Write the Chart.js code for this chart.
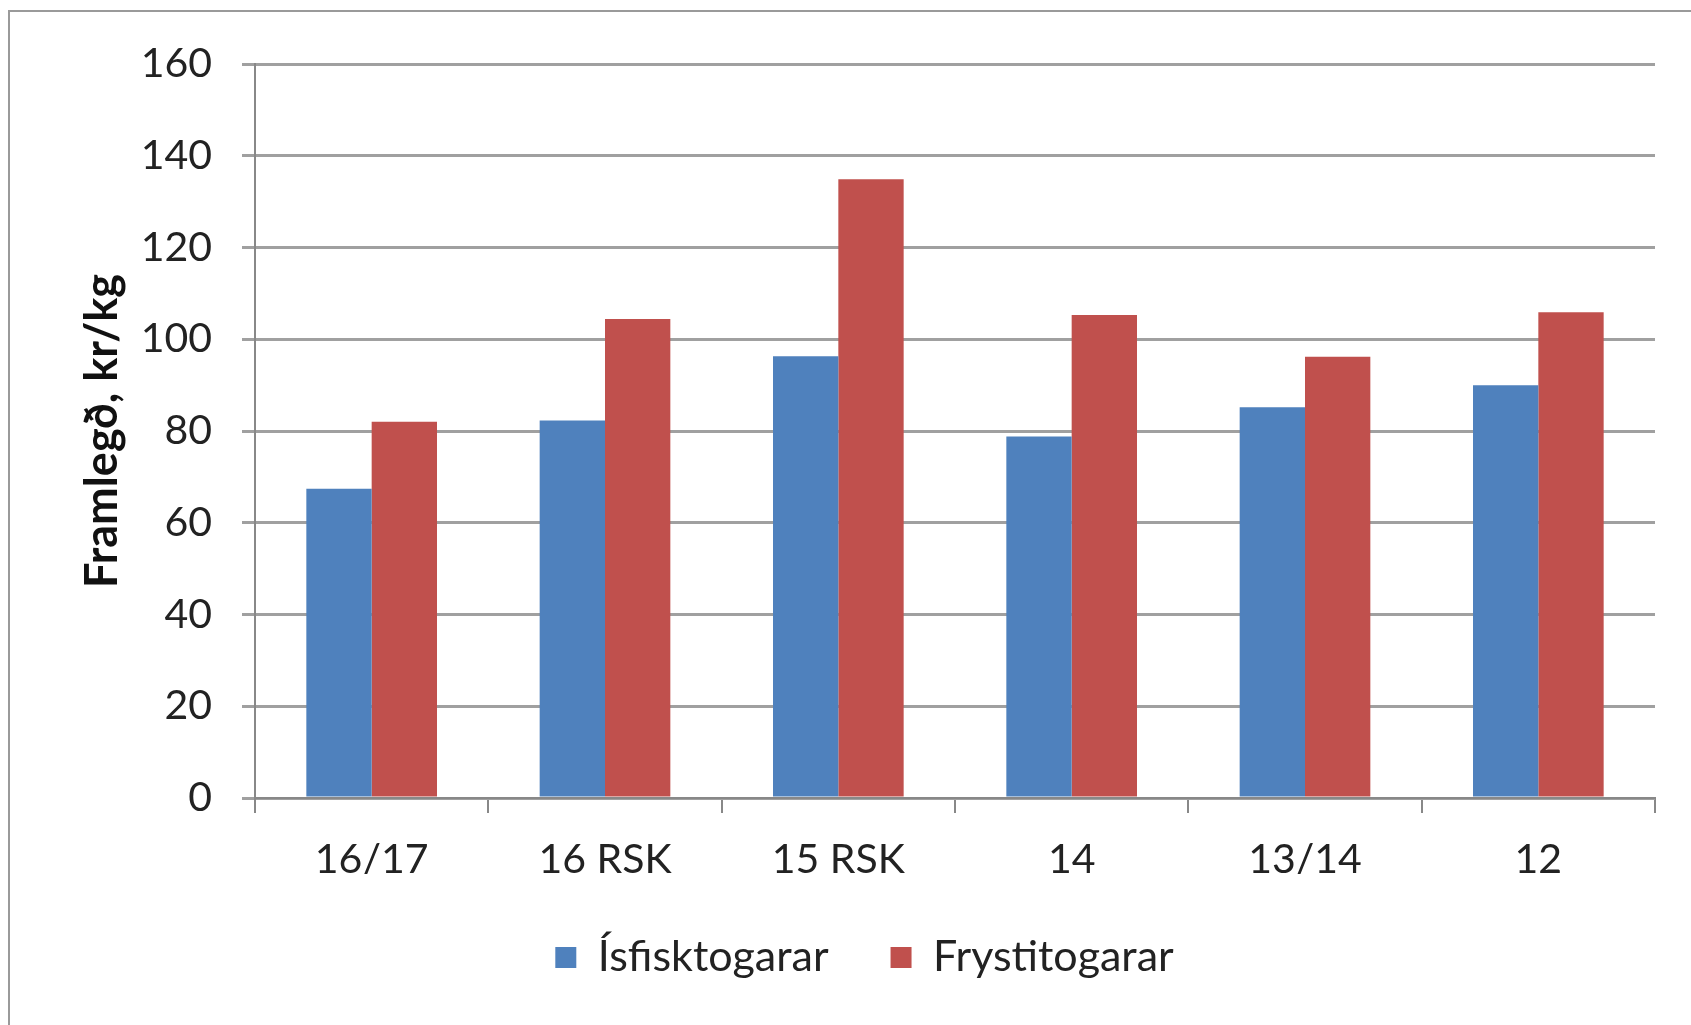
<!DOCTYPE html>
<html>
<head>
<meta charset="utf-8">
<script src="https://cdn.jsdelivr.net/npm/chart.js@4/dist/chart.umd.min.js"></script>
<style>
  html, body { margin: 0; padding: 0; background: #fff; }
  #wrap { width: 1691px; height: 1025px; }
</style>
</head>
<body>
<div id="wrap"><canvas id="myChart"></canvas></div>
<script>
// DATA
const categories = ["16/17", "16 RSK", "15 RSK", "14", "13/14", "12"];
const isfisktogarar = [67.4, 82.3, 96.3, 78.8, 85.2, 90.0];
const frystitogarar = [82.0, 104.4, 134.9, 105.3, 96.2, 105.9];
const seriesNames = ["Ísfisktogarar", "Frystitogarar"];
const yAxisTitle = "Framlegð, kr/kg";

const ctx = document.querySelector("#myChart");
const FONT = "Lato, 'Open Sans', sans-serif";

// outer frame (only left and top edges are visible in the picture)
const framePlugin = {
  id: "frame",
  beforeDraw(chart) {
    const c = chart.ctx;
    c.save();
    c.fillStyle = "#fff";
    c.fillRect(0, 0, chart.width, chart.height);
    c.strokeStyle = "#9a9a9a";
    c.lineWidth = 2;
    c.strokeRect(9, 11, chart.width + 20, chart.height + 20);
    c.restore();
  },
};

new Chart(ctx, {
  type: "bar",
  data: {
    labels: categories,
    datasets: [
      {
        label: seriesNames[0],
        data: isfisktogarar,
        backgroundColor: "#4f81bd",
        borderWidth: 0,
      },
      {
        label: seriesNames[1],
        data: frystitogarar,
        backgroundColor: "#c0504d",
        borderWidth: 0,
      },
    ],
  },
  options: {
    responsive: true,
    maintainAspectRatio: false,
    animation: false,
    categoryPercentage: 0.56,
    barPercentage: 1.0,
    layout: {
      padding: { left: 74, top: 64, right: 36, bottom: 36 },
    },
    plugins: {
      tooltip: { enabled: false },
      legend: {
        position: "bottom",
        labels: {
          font: { family: FONT, size: 43 },
          color: "#222",
          boxWidth: 21,
          boxHeight: 21,
          padding: 62,
        },
      },
    },
    scales: {
      x: {
        afterFit: (s) => {
          s.height = 76;
        },
        grid: {
          offset: true,
          drawOnChartArea: false,
          drawTicks: true,
          tickLength: 15,
          color: "#888",
          lineWidth: 2,
        },
        border: { color: "#888", width: 2 },
        ticks: {
          font: { family: FONT, size: 41 },
          color: "#222",
          padding: 22,
        },
      },
      y: {
        min: 0,
        max: 160,
        afterFit: (s) => {
          s.width = 181;
        },
        grid: {
          color: "#a0a0a0",
          lineWidth: 3,
          tickLength: 13,
        },
        border: { color: "#888", width: 2 },
        ticks: {
          stepSize: 20,
          font: { family: FONT, size: 41 },
          color: "#222",
          padding: 30,
        },
        title: {
          display: true,
          text: yAxisTitle,
          font: { family: FONT, size: 45, weight: "bold" },
          color: "#111",
          padding: { top: 1, bottom: 0 },
        },
      },
    },
  },
  plugins: [framePlugin],
});
</script>
</body>
</html>
